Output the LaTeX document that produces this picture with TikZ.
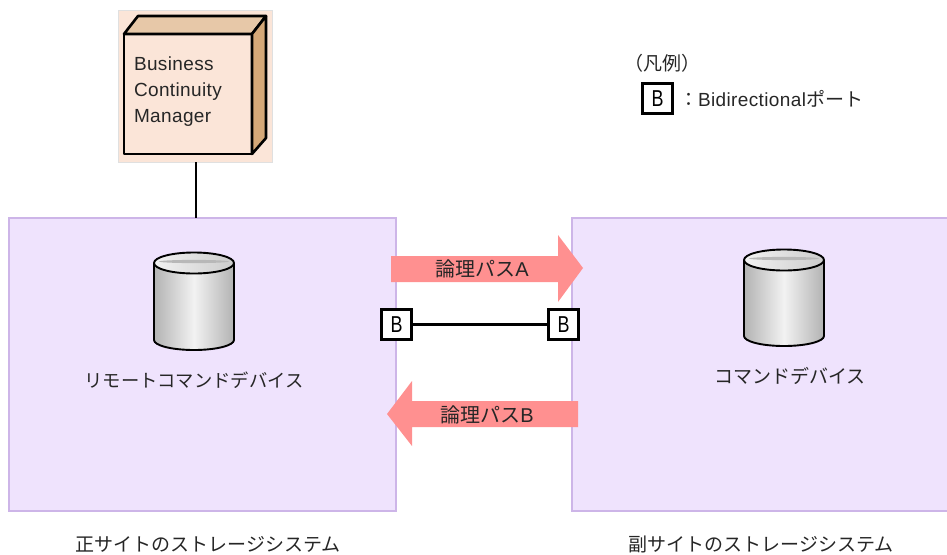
\documentclass[tikz,border=0pt]{standalone}
\usepackage{fontspec}
\setmainfont{Liberation Sans}[LetterSpace=2]
\newfontfamily\cjk{Noto Sans CJK JP}
\definecolor{sysfill}{HTML}{EFE3FD}
\definecolor{sysline}{HTML}{CDB5E8}
\definecolor{peach}{HTML}{FBE5D8}
\definecolor{peachtop}{HTML}{E7C8A8}
\definecolor{peachside}{HTML}{D5A878}
\definecolor{arrowred}{HTML}{FF9090}
\tikzset{
  sysbox/.style={draw=sysline,fill=sysfill,line width=2pt,anchor=north west,inner sep=0pt,outer sep=0pt},
  portbox/.style={draw=black,fill=white,line width=2.8pt,minimum size=30.5pt,inner sep=0pt,outer sep=0pt,font=\fontsize{23}{24}\selectfont\addfontfeature{FakeStretch=0.78}},
  label/.style={inner sep=0pt,outer sep=0pt,text=black!85,font=\fontsize{19}{20}\selectfont},
  devlabel/.style={label,font=\fontsize{18.3}{20}\selectfont},
  caption/.style={label,font=\fontsize{19}{20}\selectfont},
  link/.style={draw=black,line width=2.6pt},
  bold3d/.style={draw=black,line width=2.6pt,line join=round},
  pathlabel/.style={label,font=\fontsize{20}{21}\selectfont},
  cyledge/.style={line width=1.9pt,line join=round},
}
\newcommand{\drawcyl}[4]{% left x, right x, top y, bottom y
  \pgfmathsetmacro{\cx}{(#1+#2)/2}
  \pgfmathsetmacro{\rx}{(#2-#1)/2}
  \shade[left color=black!30,right color=black!30,middle color=black!5]
    (#1,#3+11) -- (#1,#4-10) arc[start angle=180,end angle=0,x radius=\rx,y radius=10] -- (#2,#3+11) -- cycle;
  \shade[left color=black!5,right color=black!20] (\cx,#3+11) ellipse[x radius=\rx,y radius=10.5];
  \fill[black!28] (\cx,#3+9.5) ellipse[x radius=\rx-5,y radius=1.6];
  \draw[cyledge] (#1,#3+11) -- (#1,#4-10) arc[start angle=180,end angle=0,x radius=\rx,y radius=10] -- (#2,#3+11);
  \draw[cyledge] (\cx,#3+11) ellipse[x radius=\rx,y radius=10.5];
}
\begin{document}
\begin{tikzpicture}[x=1pt,y=-1pt]
\useasboundingbox (0,0) rectangle (947,554);
\begin{scope}
\clip (0,0) rectangle (947,554);
% storage systems
\node[sysbox,minimum width=387pt,minimum height=293pt] (leftsys) at (9,218) {};
\node[sysbox,minimum width=390pt,minimum height=293pt] (rightsys) at (572,218) {};
\end{scope}
% Business Continuity Manager
\node[fill=peach,draw=black!12,line width=.6pt,anchor=north west,minimum width=154pt,minimum height=152pt,inner sep=0pt,outer sep=0pt] (bcm) at (118,10) {};
\node[bold3d,fill=peach,anchor=north west,minimum width=128pt,minimum height=120pt,inner sep=0pt,outer sep=0pt] (bcmfront) at (124,34) {};
\draw[bold3d,fill=peachtop] (bcmfront.north west) -- ++(14,-18) -- ++(128,0) -- (bcmfront.north east) -- cycle;
\draw[bold3d,fill=peachside] (bcmfront.north east) -- ++(14,-18) -- ++(0,122) -- (bcmfront.south east) -- cycle;
\node[label,anchor=base west] (bcmt1) at (134,70) {Business};
\node[label,anchor=base west] (bcmt2) at (134,96) {Continuity};
\node[label,anchor=base west] (bcmt3) at (134,122) {Manager};
\draw[link] ([xshift=1pt]bcm.south) -- ([xshift=1pt]bcm.south |- leftsys.north);
% cylinders
\drawcyl{154}{234}{252}{350}
\drawcyl{744}{824}{249}{346}
\node[devlabel] (rcd) at (194,380) {\cjk リモートコマンドデバイス};
\node[label] (cd) at (790,376) {\cjk コマンドデバイス};
% arrows
\fill[arrowred] (391,256) -- (558,256) -- (558,235) -- (583,268) -- (558,302) -- (558,282) -- (391,282) -- cycle;
\fill[arrowred] (578,401) -- (412,401) -- (412,381) -- (387,414) -- (412,446) -- (412,427) -- (578,427) -- cycle;
\node[pathlabel] (pa) at (482,269) {{\cjk 論理パス}A};
\node[pathlabel] (pb) at (487,415) {{\cjk 論理パス}B};
% ports
\node[portbox] (pl) at (396.5,324.5) {B};
\node[portbox] (pr) at (563.5,324.5) {B};
\draw[link] (pl) -- (pr);
% legend
\node[label,anchor=west] (lg) at (624,63) {\cjk （凡例）};
\node[portbox] (lgb) at (657.5,98.5) {B};
\node[label,anchor=west] (lgt) at (679,99) {{\cjk ：}Bidirectional{\cjk ポート}};
% captions
\node[caption] (c1) at (208,544) {\cjk 正サイトのストレージシステム};
\node[caption] (c2) at (761,544) {\cjk 副サイトのストレージシステム};
\end{tikzpicture}
\end{document}
